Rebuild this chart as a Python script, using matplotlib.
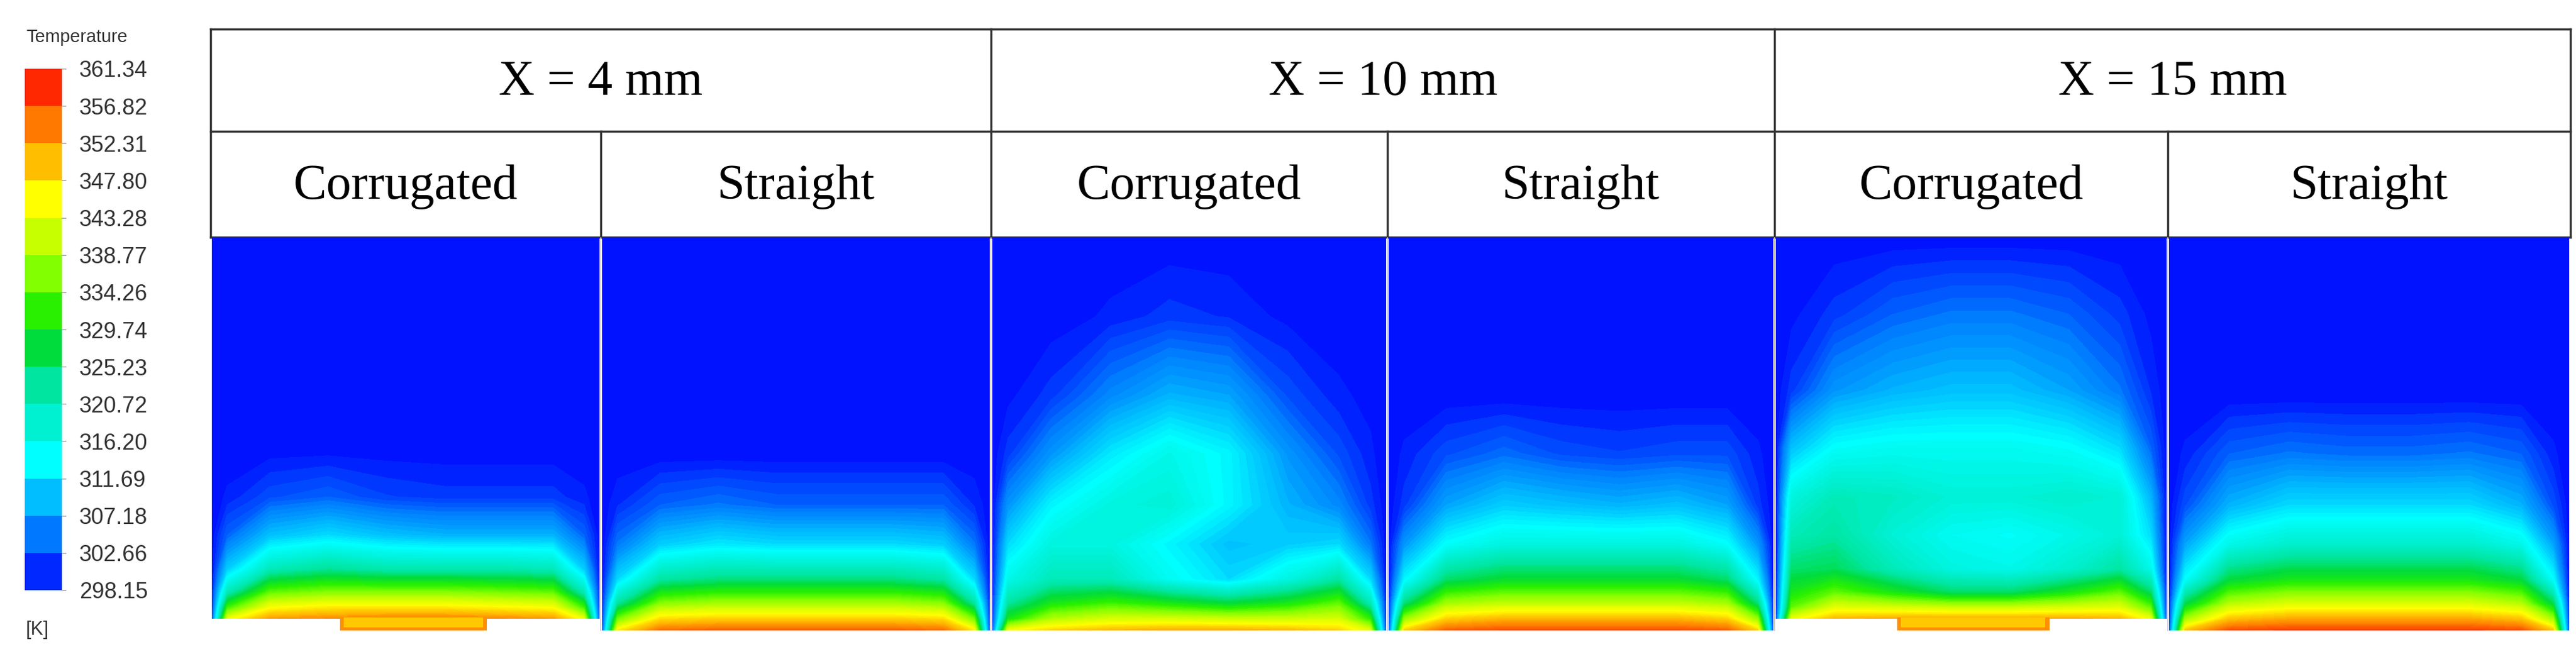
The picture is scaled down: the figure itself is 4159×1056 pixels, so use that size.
import matplotlib.pyplot as plt
import numpy as np
from matplotlib.colors import LinearSegmentedColormap

# ---- data ----
levels = [298.15, 302.66, 307.18, 311.69, 316.20, 320.72, 325.23, 329.74,
          334.26, 338.77, 343.28, 347.80, 352.31, 356.82, 361.34]
band_colors = ["#0028ff", "#0078ff", "#00beff", "#00ffff", "#00f0d2", "#00e6a0",
               "#00dc3c", "#28f000", "#82ff00", "#c8ff00", "#ffff00", "#ffbe00",
               "#ff7800", "#ff2800"]
groups = ["X = 4 mm", "X = 10 mm", "X = 15 mm"]
cases = ["Corrugated", "Straight"]

# normalised sample positions inside each panel (width, height)
xs = [0, 0.04, 0.15, 0.3, 0.45, 0.6, 0.75, 0.88, 0.96, 1]
ys = [0, 0.03, 0.07, 0.13, 0.22, 0.32, 0.45, 0.6, 0.8, 1]
AMB = [298.15] * 10

# temperature, rows bottom -> top [K]
T_c4 = [
    [300, 345, 354, 355, 356, 356, 355, 354, 345, 300],
    [299, 333, 346, 348, 348, 348, 347, 346, 333, 299],
    [299, 320, 335, 337, 337, 337, 336, 335, 320, 299],
    [298.2, 309, 320, 323, 321, 321, 321, 320, 309, 298.2],
    [298.2, 302, 308, 310, 308, 307, 307, 307, 302, 298.2],
    [298.2, 299, 301, 302, 300.5, 300, 300, 300, 299, 298.2],
    AMB, AMB, AMB, AMB,
]
T_s4 = [
    [300, 348, 357, 358, 358, 358, 358, 357, 348, 300],
    [299, 336, 349, 350, 350, 350, 350, 349, 336, 299],
    [299, 322, 337, 339, 339, 339, 339, 337, 322, 299],
    [298.2, 310, 322, 324, 324, 324, 324, 322, 310, 298.2],
    [298.2, 303, 309, 311, 310, 310, 310, 309, 303, 298.2],
    [298.2, 299.5, 302, 303, 302, 302, 302, 302, 299.5, 298.2],
    AMB, AMB, AMB, AMB,
]
T_c10 = [
    [300, 346, 350, 352, 353, 353, 352, 350, 344, 300],
    [299, 330, 340, 343, 343, 342, 342, 343, 332, 299],
    [299, 322, 330, 333, 330, 327, 330, 335, 320, 299],
    [298.5, 315, 320, 320, 314, 310, 316, 322, 310, 298.2],
    [298.2, 310, 316, 316, 312, 308, 309, 310, 303, 298.2],
    [298.2, 305, 312, 316, 317, 312, 307, 304, 300, 298.2],
    [298.2, 300, 305, 311, 315, 312, 305, 301, 299, 298.2],
    [298.2, 298.5, 300, 304, 307, 306, 301, 299, 298.5, 298.2],
    [298.2, 298.2, 298.2, 299, 300, 299.5, 298.5, 298.2, 298.2, 298.2],
    AMB,
]
T_s10 = [
    [300, 350, 358, 359, 359, 359, 359, 358, 350, 300],
    [299, 338, 350, 352, 352, 352, 352, 350, 338, 299],
    [299, 324, 339, 341, 341, 341, 341, 339, 324, 299],
    [298.2, 312, 325, 328, 328, 328, 328, 325, 312, 298.2],
    [298.2, 305, 313, 316, 316, 316, 316, 313, 305, 298.2],
    [298.2, 300, 306, 309, 308, 307, 308, 306, 300, 298.2],
    [298.2, 299, 301, 302.5, 301, 300.5, 301, 301, 299, 298.2],
    AMB, AMB, AMB,
]
T_c15 = [
    [300, 345, 352, 353, 353, 353, 353, 352, 345, 300],
    [299, 335, 344, 343, 342, 342, 343, 344, 335, 299],
    [299, 330, 335, 330, 325, 325, 330, 335, 325, 299],
    [298.5, 325, 326, 320, 316, 315, 318, 322, 315, 298.2],
    [298.2, 320, 322, 317, 314, 313, 315, 317, 310, 298.2],
    [298.2, 316, 320, 319, 317, 317, 318, 317, 307, 298.2],
    [298.2, 308, 313, 314, 314, 314, 313, 310, 302, 298.2],
    [298.2, 300, 305, 307, 308, 308, 306, 303, 299.5, 298.2],
    [298.2, 298.5, 300, 302, 303, 303, 302, 300, 298.5, 298.2],
    AMB,
]
T_s15 = [
    [300, 351, 359, 360, 360, 360, 360, 359, 351, 300],
    [299, 339, 351, 353, 353, 353, 353, 351, 339, 299],
    [299, 326, 340, 343, 343, 343, 343, 340, 326, 299],
    [298.2, 313, 327, 330, 330, 330, 330, 327, 313, 298.2],
    [298.2, 306, 315, 318, 318, 318, 318, 315, 306, 298.2],
    [298.2, 301, 307, 310, 310, 310, 310, 307, 301, 298.2],
    [298.2, 299, 302, 303, 302.5, 302.5, 303, 302, 299, 298.2],
    AMB, AMB, AMB,
]
fields = [T_c4, T_s4, T_c10, T_s10, T_c15, T_s15]
# groove between the corrugations (fraction of panel width)
grooves = {0: (0.33, 0.71), 4: (0.31, 0.70)}

# ---- layout (pixels) ----
W, H = 4159, 1056
col_edges = [340, 970, 1600, 2240, 2865, 3500, 4150]
tab_top, row1, row2 = 47, 212, 383
field_top, field_bot, corr_bot = 384, 1018, 999

fig = plt.figure(figsize=(W / 100, H / 100), dpi=100)
over = fig.add_axes([0, 0, 1, 1])
over.set_xlim(0, W); over.set_ylim(H, 0); over.axis("off")

smooth = LinearSegmentedColormap.from_list("ansys", ["#000cff"] + band_colors[1:], N=256)
fine_levels = np.linspace(298.0, levels[-1], 80)

for i, T in enumerate(fields):
    x0, x1 = col_edges[i], col_edges[i + 1]
    bot = corr_bot if i in grooves else field_bot
    ext = (field_bot - bot) / (bot - field_top)
    ax = fig.add_axes([(x0 + 2) / W, 1 - field_bot / H,
                       (x1 - x0 - 4) / W, (field_bot - field_top) / H])
    ax.set_facecolor("white")
    ax.contourf(xs, ys, np.array(T), levels=fine_levels, cmap=smooth, extend="both")
    if i in grooves:
        a, b = grooves[i]
        ax.fill_between([a, b], -ext, 0.004, color="#ff9000", lw=0)
        ax.fill_between([a + 0.01, b - 0.01], -ext * 0.75, 0.004, color="#ffc800", lw=0)
    ax.set_xlim(0, 1); ax.set_ylim(-ext, 1)
    ax.axis("off")

# table
lc = "#333333"
for y in (tab_top, row1, row2):
    over.plot([col_edges[0], col_edges[-1]], [y, y], color=lc, lw=2.5)
for k, x in enumerate(col_edges):
    top = tab_top if k % 2 == 0 else row1
    over.plot([x, x], [top, row2], color=lc, lw=2.5)
for x in col_edges[1:-1]:
    over.plot([x, x], [field_top, field_bot], color="#c8c8e0", lw=1.2)
for g, name in enumerate(groups):
    over.text((col_edges[2 * g] + col_edges[2 * g + 2]) / 2, (tab_top + row1) / 2 + 4, name,
              ha="center", va="center", fontsize=58, family="Liberation Serif")
for i in range(6):
    over.text((col_edges[i] + col_edges[i + 1]) / 2, (row1 + row2) / 2 + 4, cases[i % 2],
              ha="center", va="center", fontsize=58, family="Liberation Serif")

# colour legend
cb_x0, cb_x1, cb_top, cb_bot = 40, 100, 111, 953
step = (cb_bot - cb_top) / (len(levels) - 1)
for k, c in enumerate(band_colors):
    yb = cb_bot - k * step
    over.fill_between([cb_x0, cb_x1], yb - step, yb, color=c, lw=0)
for k, v in enumerate(levels):
    y = cb_bot - k * step
    over.plot([cb_x1, cb_x1 + 6], [y, y], color="#999999", lw=1)
    over.text(cb_x1 + 28, y + 4, f"{v:.2f}", ha="left", va="center", fontsize=26,
              family="Liberation Sans", color="#333333")
over.text(cb_x0 + 2, 60, "Temperature", ha="left", va="center", fontsize=21,
          family="Liberation Sans", color="#333333")
over.text(cb_x0 + 2, 1017, "[K]", ha="left", va="center", fontsize=22,
          family="Liberation Sans", color="#333333")

fig.savefig("out.png", dpi=100, facecolor="white")
